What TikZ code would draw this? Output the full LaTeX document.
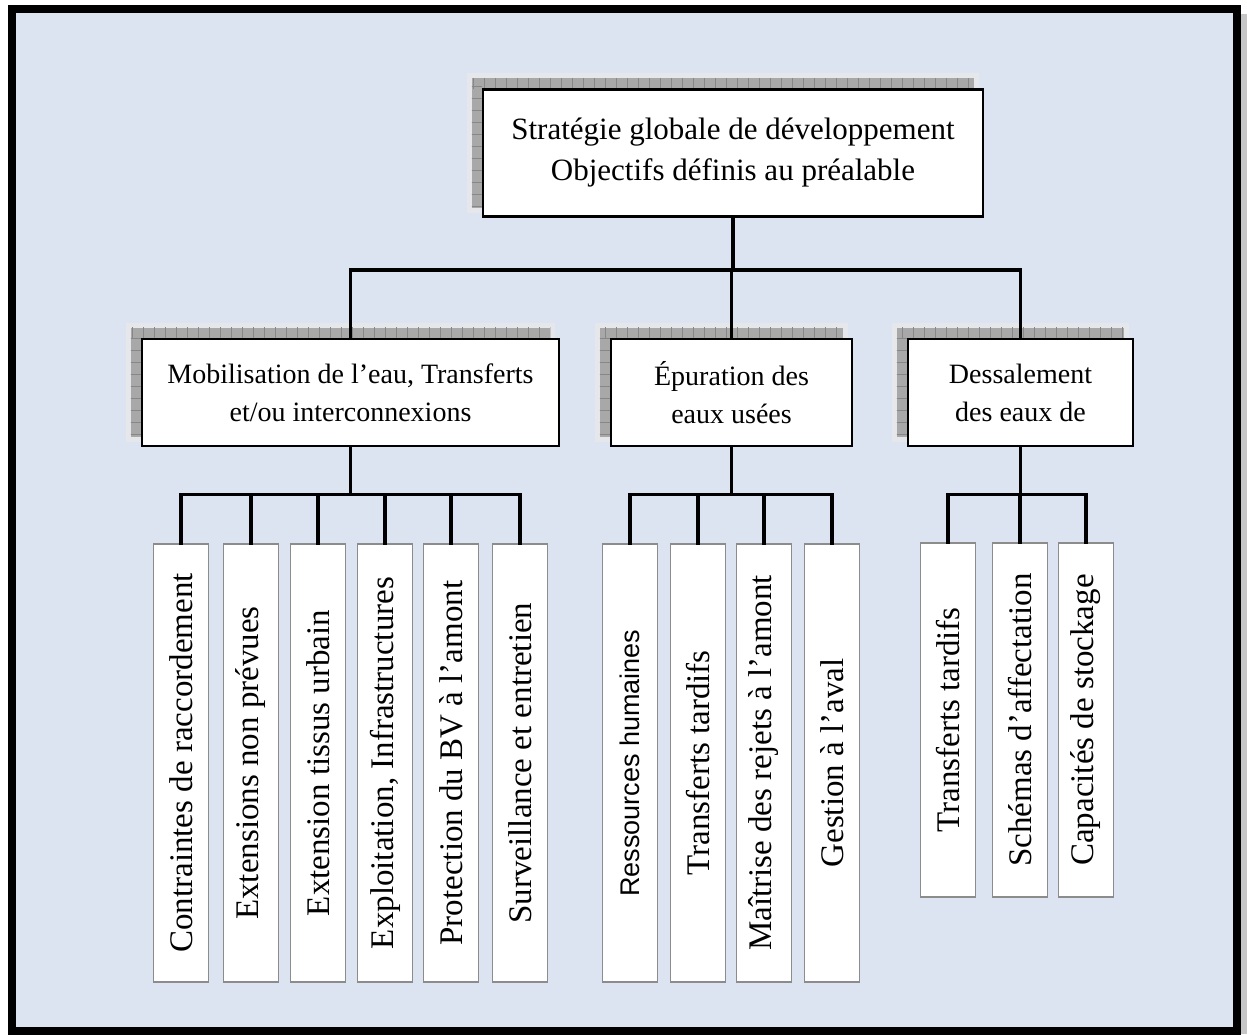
\documentclass[tikz,border=0pt]{standalone}
\usepackage{fontspec}
\setmainfont{Liberation Serif}
\newfontfamily\arialfont{Liberation Sans}
\usetikzlibrary{calc}
\usetikzlibrary{backgrounds}
\usetikzlibrary{patterns.meta}

\definecolor{paleblue}{RGB}{219,228,240}
\definecolor{shadowgray}{RGB}{168,168,168}
\definecolor{tickgray}{RGB}{135,135,135}
\definecolor{halogray}{RGB}{229,231,235}
\definecolor{leafgray}{RGB}{140,140,140}

\newcommand{\topfont}{\fontsize{31}{41}\selectfont}
\newcommand{\midfont}{\fontsize{28}{38}\selectfont}
\newcommand{\leaffont}{\fontsize{33}{40}\selectfont}
\newcommand{\vtext}[1]{\rotatebox{90}{#1}}

% hatched drop shadow up-left of a box
\newcommand{\boxshadow}[1]{%
  \fill[halogray] ($(#1.south west)+(-15,-5)$) rectangle ($(#1.north east)+(-5,-15)$);
  \fill[shadowgray] ($(#1.south west)+(-10,-10)$) rectangle ($(#1.north east)+(-10,-10)$);
  \fill[pattern={Lines[angle=90,distance=11pt,line width=0.8pt]}, pattern color=tickgray]
    ($(#1.north west)+(-10,-10)$) rectangle ($(#1.north east)+(-10,0)$);
  \fill[pattern={Lines[angle=0,distance=12pt,line width=0.8pt]}, pattern color=tickgray]
    ($(#1.north west)+(-10,-10)$) rectangle ($(#1.south west)+(0,-10)$);
}

\tikzset{
  mainbox/.style={draw, line width=2.5pt, fill=white, inner sep=0pt, align=center},
  leafbox/.style={draw=leafgray, line width=1.2pt, fill=white, inner sep=0pt, minimum width=55pt, font=\leaffont},
  link/.style={line width=3.2pt, line cap=rect},
}

\begin{document}
\begin{tikzpicture}[x=1pt, y=-1pt]
  \useasboundingbox (0,0) rectangle (1247,1034);

  % top level
  \node[mainbox, minimum width=500pt, minimum height=127pt, font=\topfont] (strat) at (733,153)
    {Stratégie globale de développement\\Objectifs définis au préalable};

  % second level
  \node[mainbox, minimum width=417pt, minimum height=107pt, font=\midfont] (mob) at (350.5,392.5)
    {Mobilisation de l’eau, Transferts\\et/ou interconnexions};
  \node[mainbox, minimum width=241pt, minimum height=107pt, font=\midfont] (epu) at (731.5,392.5)
    {Épuration des\\eaux usées};
  \node[mainbox, minimum width=225pt, minimum height=107pt, font=\midfont] (dess) at (1020.5,392.5)
    {Dessalement\\des eaux de};

  % leaves under mob
  \node[leafbox, minimum height=438pt] (raccord) at (181,763) {\vtext{Contraintes de raccordement}};
  \node[leafbox, minimum height=438pt] (nonprev) at (251,763) {\vtext{Extensions non prévues}};
  \node[leafbox, minimum height=438pt] (tissu) at (318,763) {\vtext{Extension tissus urbain}};
  \node[leafbox, minimum height=438pt] (exploit) at (385,763) {\vtext{Exploitation, Infrastructures}};
  \node[leafbox, minimum height=438pt] (protect) at (451,763) {\vtext{Protection du BV à l’amont}};
  \node[leafbox, minimum height=438pt] (surv) at (520,763) {\vtext{Surveillance et entretien}};

  % leaves under epu
  \node[leafbox, minimum height=438pt] (rh) at (630,763) {\vtext{\arialfont\fontsize{27}{32}\selectfont Ressources humaines}};
  \node[leafbox, minimum height=438pt] (tardA) at (698,763) {\vtext{Transferts tardifs}};
  \node[leafbox, minimum height=438pt] (rejets) at (764,763) {\vtext{Maîtrise des rejets à l’amont}};
  \node[leafbox, minimum height=438pt] (aval) at (832,763) {\vtext{Gestion à l’aval}};

  % leaves under dess
  \node[leafbox, minimum height=354pt] (tardB) at (948,720) {\vtext{Transferts tardifs}};
  \node[leafbox, minimum height=354pt] (affect) at (1020,720) {\vtext{Schémas d’affectation}};
  \node[leafbox, minimum height=354pt] (stock) at (1086,720) {\vtext{Capacités de stockage}};

  % tree links
  \coordinate (j0) at (733,270);
  \draw[link] (strat.south) -- (j0);
  \draw[link] (mob.north) |- (j0) -| (dess.north);
  \draw[link] (epu.north) -- (epu.north |- j0);

  \draw[link] (mob.south) -- ++(0,47) coordinate (j1);
  \draw[link] (raccord.north) |- (j1) -| (surv.north);
  \foreach \leaf in {nonprev, tissu, exploit, protect}
    \draw[link] (\leaf.north) -- (\leaf.north |- j1);

  \draw[link] (epu.south) -- ++(0,47) coordinate (j2);
  \draw[link] (rh.north) |- (j2) -| (aval.north);
  \foreach \leaf in {tardA, rejets}
    \draw[link] (\leaf.north) -- (\leaf.north |- j2);

  \draw[link] (dess.south) -- ++(0,47) coordinate (j3);
  \draw[link] (tardB.north) |- (j3) -| (stock.north);
  \draw[link] (affect.north) -- (affect.north |- j3);

  % frame and shadows behind
  \begin{scope}[on background layer]
    \fill[gray!45] (1241,14) rectangle (1247,1034);
    \fill[paleblue] (12,9) rectangle (1237,1031);
    \boxshadow{strat}
    \boxshadow{mob}
    \boxshadow{epu}
    \boxshadow{dess}
  \end{scope}
  \draw[line width=8pt] (12,9) rectangle (1237,1031);
\end{tikzpicture}
\end{document}
